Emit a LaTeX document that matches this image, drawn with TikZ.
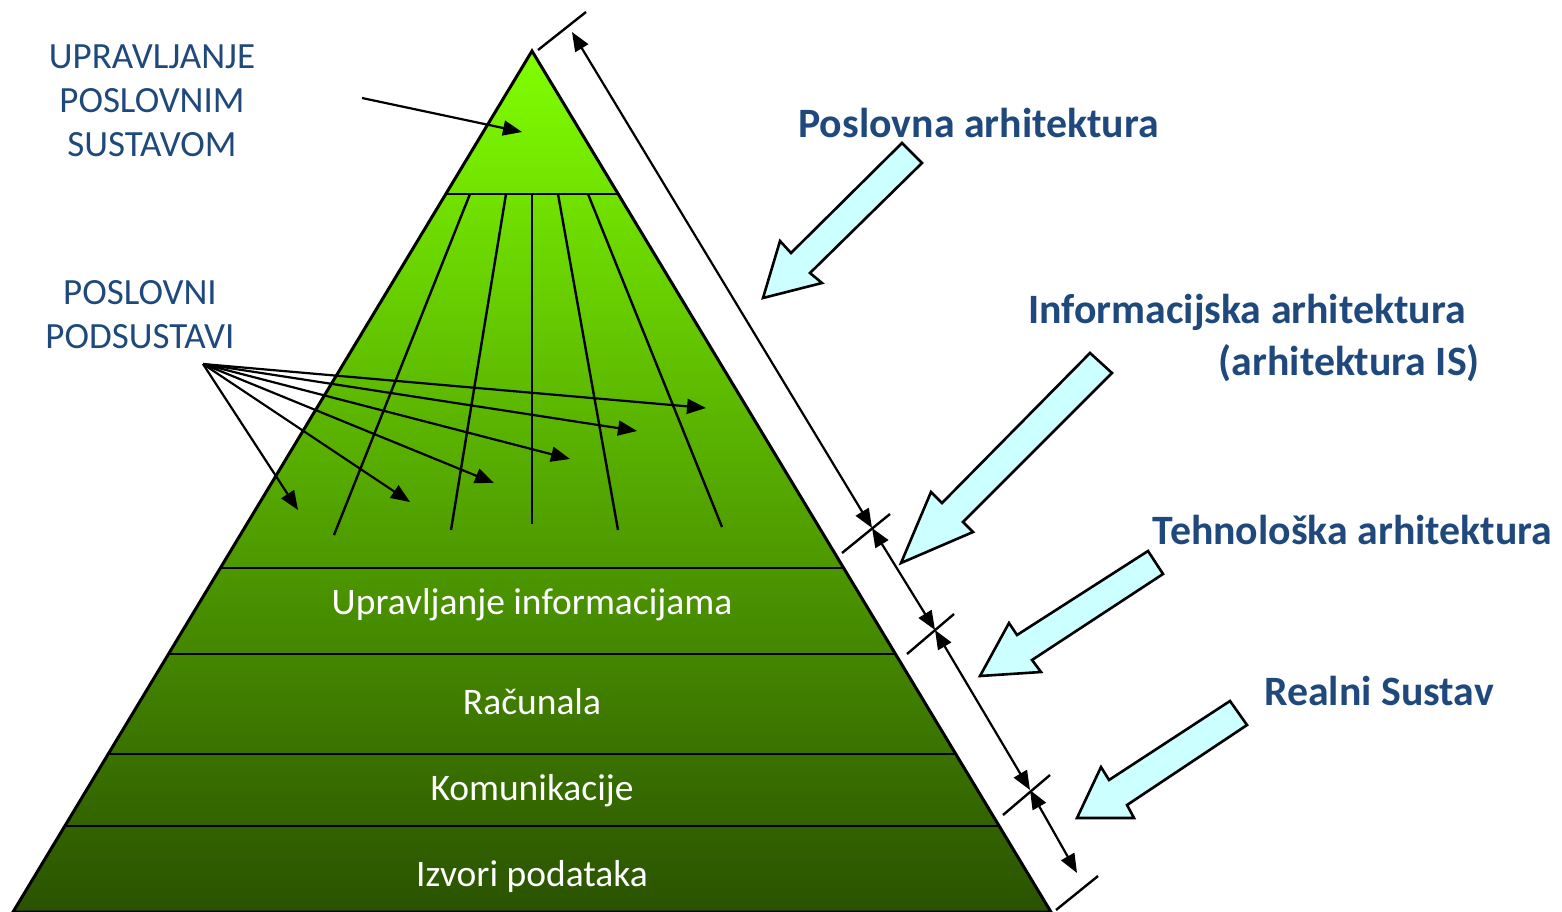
\documentclass[tikz,border=0pt]{standalone}
\usepackage{fontspec}
\setmainfont{Carlito}
\usetikzlibrary{arrows.meta,calc}

\definecolor{txtblue}{HTML}{1F497D}
\definecolor{arrowfill}{HTML}{CCFFFF}
\definecolor{gtop}{HTML}{80FF00}
\definecolor{gbot}{HTML}{2A5200}

\begin{document}
\begin{tikzpicture}[x=1pt,y=-1pt,
  outline/.style={line width=3pt, line join=miter},
  divider/.style={line width=2.8pt},
  rib/.style={line width=2.4pt},
  pointer/.style={line width=2.2pt, -{Triangle[length=19pt,width=15pt]}},
  dimline/.style={line width=2.2pt, {Triangle[length=19pt,width=15pt]}-{Triangle[length=19pt,width=15pt]}},
  dimtick/.style={line width=2.4pt},
  blockarrow/.style={draw=black, fill=arrowfill, line width=2.6pt, line join=miter},
  sidelbl/.style={text=txtblue, font=\fontsize{37}{44}\selectfont, align=center, inner sep=0pt},
  archlbl/.style={text=txtblue, font=\fontsize{41.8}{48}\selectfont\bfseries, inner sep=0pt},
  layerlbl/.style={text=white, font=\fontsize{37.5}{44}\selectfont, inner sep=0pt},
]
\useasboundingbox (0,0) rectangle (1562,912);

% ---- pyramid body with vertical colour gradient
\coordinate (apex) at (532,51);
\coordinate (bl) at (13,912);
\coordinate (br) at (1051,912);
\shade[top color=gtop, bottom color=gbot] (apex) -- (bl) -- (br) -- cycle;

% ---- horizontal layer dividers
\foreach \t in {0.1661,0.6005,0.7003,0.8165,0.9001}{
  \draw[divider] ($(apex)!\t!(bl)$) -- ($(apex)!\t!(br)$);
}

% ---- ribs of the business subsystems
\coordinate (r1a) at (470,194); \coordinate (r1b) at (334,535);
\coordinate (r2a) at (506,194); \coordinate (r2b) at (451,530);
\coordinate (r3a) at (532,194); \coordinate (r3b) at (532,524);
\coordinate (r4a) at (558,194); \coordinate (r4b) at (618,530);
\coordinate (r5a) at (588,194); \coordinate (r5b) at (722,527);
\foreach \i in {1,...,5}{
  \draw[rib] (r\i a) -- (r\i b);
}

\draw[outline] (apex) -- (bl) -- (br) -- cycle;

% ---- layer names
\node[layerlbl, anchor=base] (l1) at (532,614) {Upravljanje informacijama};
\node[layerlbl, anchor=base] (l2) at (532,714) {Računala};
\node[layerlbl, anchor=base] (l3) at (532,800) {Komunikacije};
\node[layerlbl, anchor=base] (l4) at (532,886) {Izvori podataka};

% ---- left labels and their pointers
\node[sidelbl] (mgmt) at (152,101) {UPRAVLJANJE\\POSLOVNIM\\SUSTAVOM};
\node[sidelbl] (subs) at (140,314.5) {POSLOVNI\\PODSUSTAVI};

\coordinate (mgmtfrom) at (362,98);
\coordinate (mgmtto) at (522,132);
\draw[pointer] (mgmtfrom) -- (mgmtto);

\coordinate (src) at (203,364);
\coordinate (s1) at (298,510);
\coordinate (s2) at (410,502);
\coordinate (s3) at (494,483);
\coordinate (s4) at (570,459);
\coordinate (s5) at (637,431);
\coordinate (s6) at (706,408);
\foreach \i in {1,...,6}{
  \draw[pointer] (src) -- (s\i);
}

% ---- dimension line along the right flank
\coordinate (d0) at (572,32);
\coordinate (d1) at (872,528);
\coordinate (d2) at (935,630);
\coordinate (d3) at (1030,790);
\coordinate (d4) at (1077,873);
\draw[dimline] (d0) -- (d1);
\draw[dimline] (d1) -- (d2);
\draw[dimline] (d2) -- (d3);
\draw[dimline] (d3) -- (d4);

\coordinate (t0a) at (538,50);   \coordinate (t0b) at (586,12);
\coordinate (t1a) at (842,553);  \coordinate (t1b) at (890,514);
\coordinate (t2a) at (907,654);  \coordinate (t2b) at (954,614);
\coordinate (t3a) at (1003,815); \coordinate (t3b) at (1050,775);
\coordinate (t4a) at (1056,910); \coordinate (t4b) at (1098,876);
\foreach \i in {0,...,4}{
  \draw[dimtick] (t\i a) -- (t\i b);
}

% ---- architecture labels
\node[archlbl, anchor=base] (poslovna) at (978.5,138) {Poslovna arhitektura};
\node[archlbl, anchor=base] (info) at (1247,323) {Informacijska arhitektura};
\node[archlbl, anchor=base east] (infois) at (1480,375) {(arhitektura IS)};
\node[archlbl, anchor=base] (tehno) at (1352.5,544) {Tehnološka arhitektura};
\node[archlbl, anchor=base] (realni) at (1379,705) {Realni Sustav};

% ---- block arrows pointing at the flank
\draw[blockarrow] (902,143) -- (791,253) -- (780,241) -- (763,298)
  -- (822,283) -- (810,273) -- (922,163) -- cycle;
\draw[blockarrow] (1090,353) -- (942,503) -- (931,492) -- (901,563)
  -- (973,532) -- (963,522) -- (1112,373) -- cycle;
\draw[blockarrow] (1148,551) -- (1017,635) -- (1009,623) -- (980,676)
  -- (1041,672) -- (1032,660) -- (1163,574) -- cycle;
\draw[blockarrow] (1230,701) -- (1109,780) -- (1101,767) -- (1077,818)
  -- (1134,818) -- (1127,805) -- (1247,725) -- cycle;

\end{tikzpicture}
\end{document}
